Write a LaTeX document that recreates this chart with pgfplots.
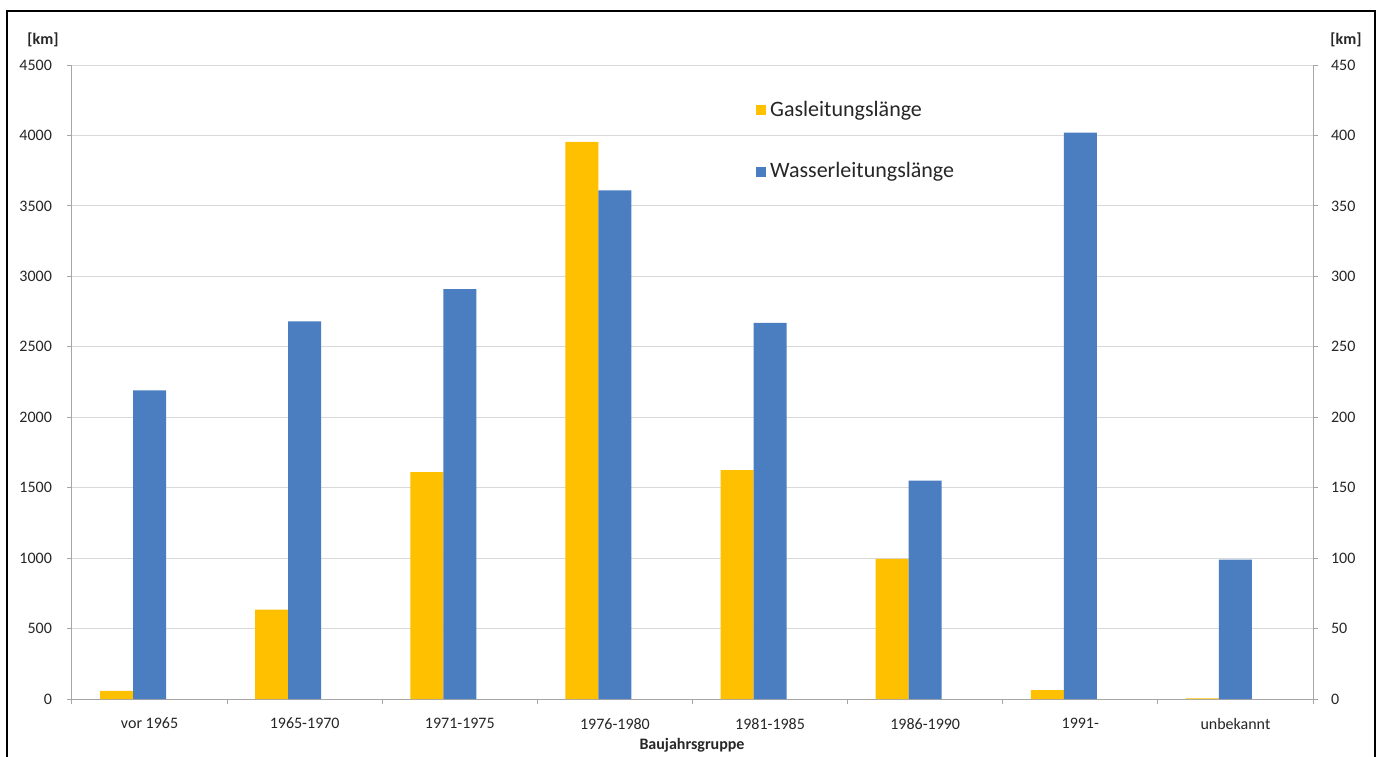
\documentclass[border=0pt]{standalone}
\usepackage{fontspec}
\setmainfont{Carlito}
\usepackage{pgfplots}
\pgfplotsset{compat=1.18}
\definecolor{gasc}{HTML}{FFC000}
\definecolor{wasc}{HTML}{4A7EC0}
\definecolor{gridc}{HTML}{D9D9D9}
\definecolor{axc}{HTML}{A6A6A6}
\definecolor{txtc}{HTML}{262626}
\begin{document}
\begin{tikzpicture}[x=0.5pt,y=0.5pt]
\useasboundingbox (0,0) rectangle (1376,756);
\fill[white] (0,0) rectangle (1376,756);
\draw[line width=1pt] (7,-10) -- (7,745) -- (1375,745) -- (1375,-10);
\pgfplotsset{common/.style={
  scale only axis, width=620.5pt, height=317pt,
  at={(36pt,28.5pt)}, anchor=south west,
  xmin=-0.5, xmax=7.5, ymin=0,
  font=\fontsize{8}{9.6}\selectfont,
  /pgf/number format/assume math mode=true,
  /pgf/number format/1000 sep={},
  axis line style={axc, line width=0.5pt},
  tick style={axc, line width=0.5pt},
  tick label style={text=txtc},
  tick align=outside,
  major tick length=2.5pt, minor tick length=2.5pt,
  ybar, bar width=0.2125,
}}
\begin{axis}[common,
  ymax=4500, ytick={0,500,...,4500},
  ymajorgrids, grid style={gridc, line width=0.5pt},
  axis y line*=left, axis x line*=bottom,
  xtick={0,...,7},
  xticklabels={vor 1965,1965-1970,1971-1975,1976-1980,1981-1985,1986-1990,1991-,unbekannt},
  major x tick style={draw=none},
  minor xtick={-0.5,0.5,...,7.5},
  xticklabel style={yshift=-3.5pt},
  yticklabel style={xshift=-4pt},
]
\addplot[fill=gasc, draw=none, bar shift=-0.2125] coordinates {
(0,57) (1,635) (2,1610) (3,3955) (4,1625) (5,995) (6,63) (7,5)};
\end{axis}
\begin{axis}[common,
  ymax=450, ytick={0,50,...,450},
  axis y line*=right, axis x line=none,
  yticklabel style={xshift=3pt},
  legend style={at={(0.551,0.950)}, anchor=north west, draw=none, fill=none,
    font=\fontsize{11}{13}\selectfont, text=txtc, row sep=17.5pt, inner sep=0pt},
  legend cell align=left,
]
\addlegendimage{legend image code/.code={\fill[gasc] (0pt,-2.3pt) rectangle (4.6pt,2.3pt);}}
\addlegendentry{Gasleitungslänge}
\addlegendimage{legend image code/.code={\fill[wasc] (0pt,-2.3pt) rectangle (4.6pt,2.3pt);}}
\addlegendentry{Wasserleitungslänge}
\addplot[fill=wasc, draw=none, bar shift=0, forget plot] coordinates {
(0,219) (1,268) (2,291) (3,361) (4,267) (5,155) (6,402) (7,99)};
\end{axis}
\node[font=\fontsize{8}{9.6}\selectfont\bfseries, text=txtc] at (43,716) {[km]};
\node[font=\fontsize{8}{9.6}\selectfont\bfseries, text=txtc] at (1346,716) {[km]};
\node[font=\fontsize{8}{9.6}\selectfont\bfseries, text=txtc] at (692,11) {Baujahrsgruppe};
\end{tikzpicture}
\end{document}
